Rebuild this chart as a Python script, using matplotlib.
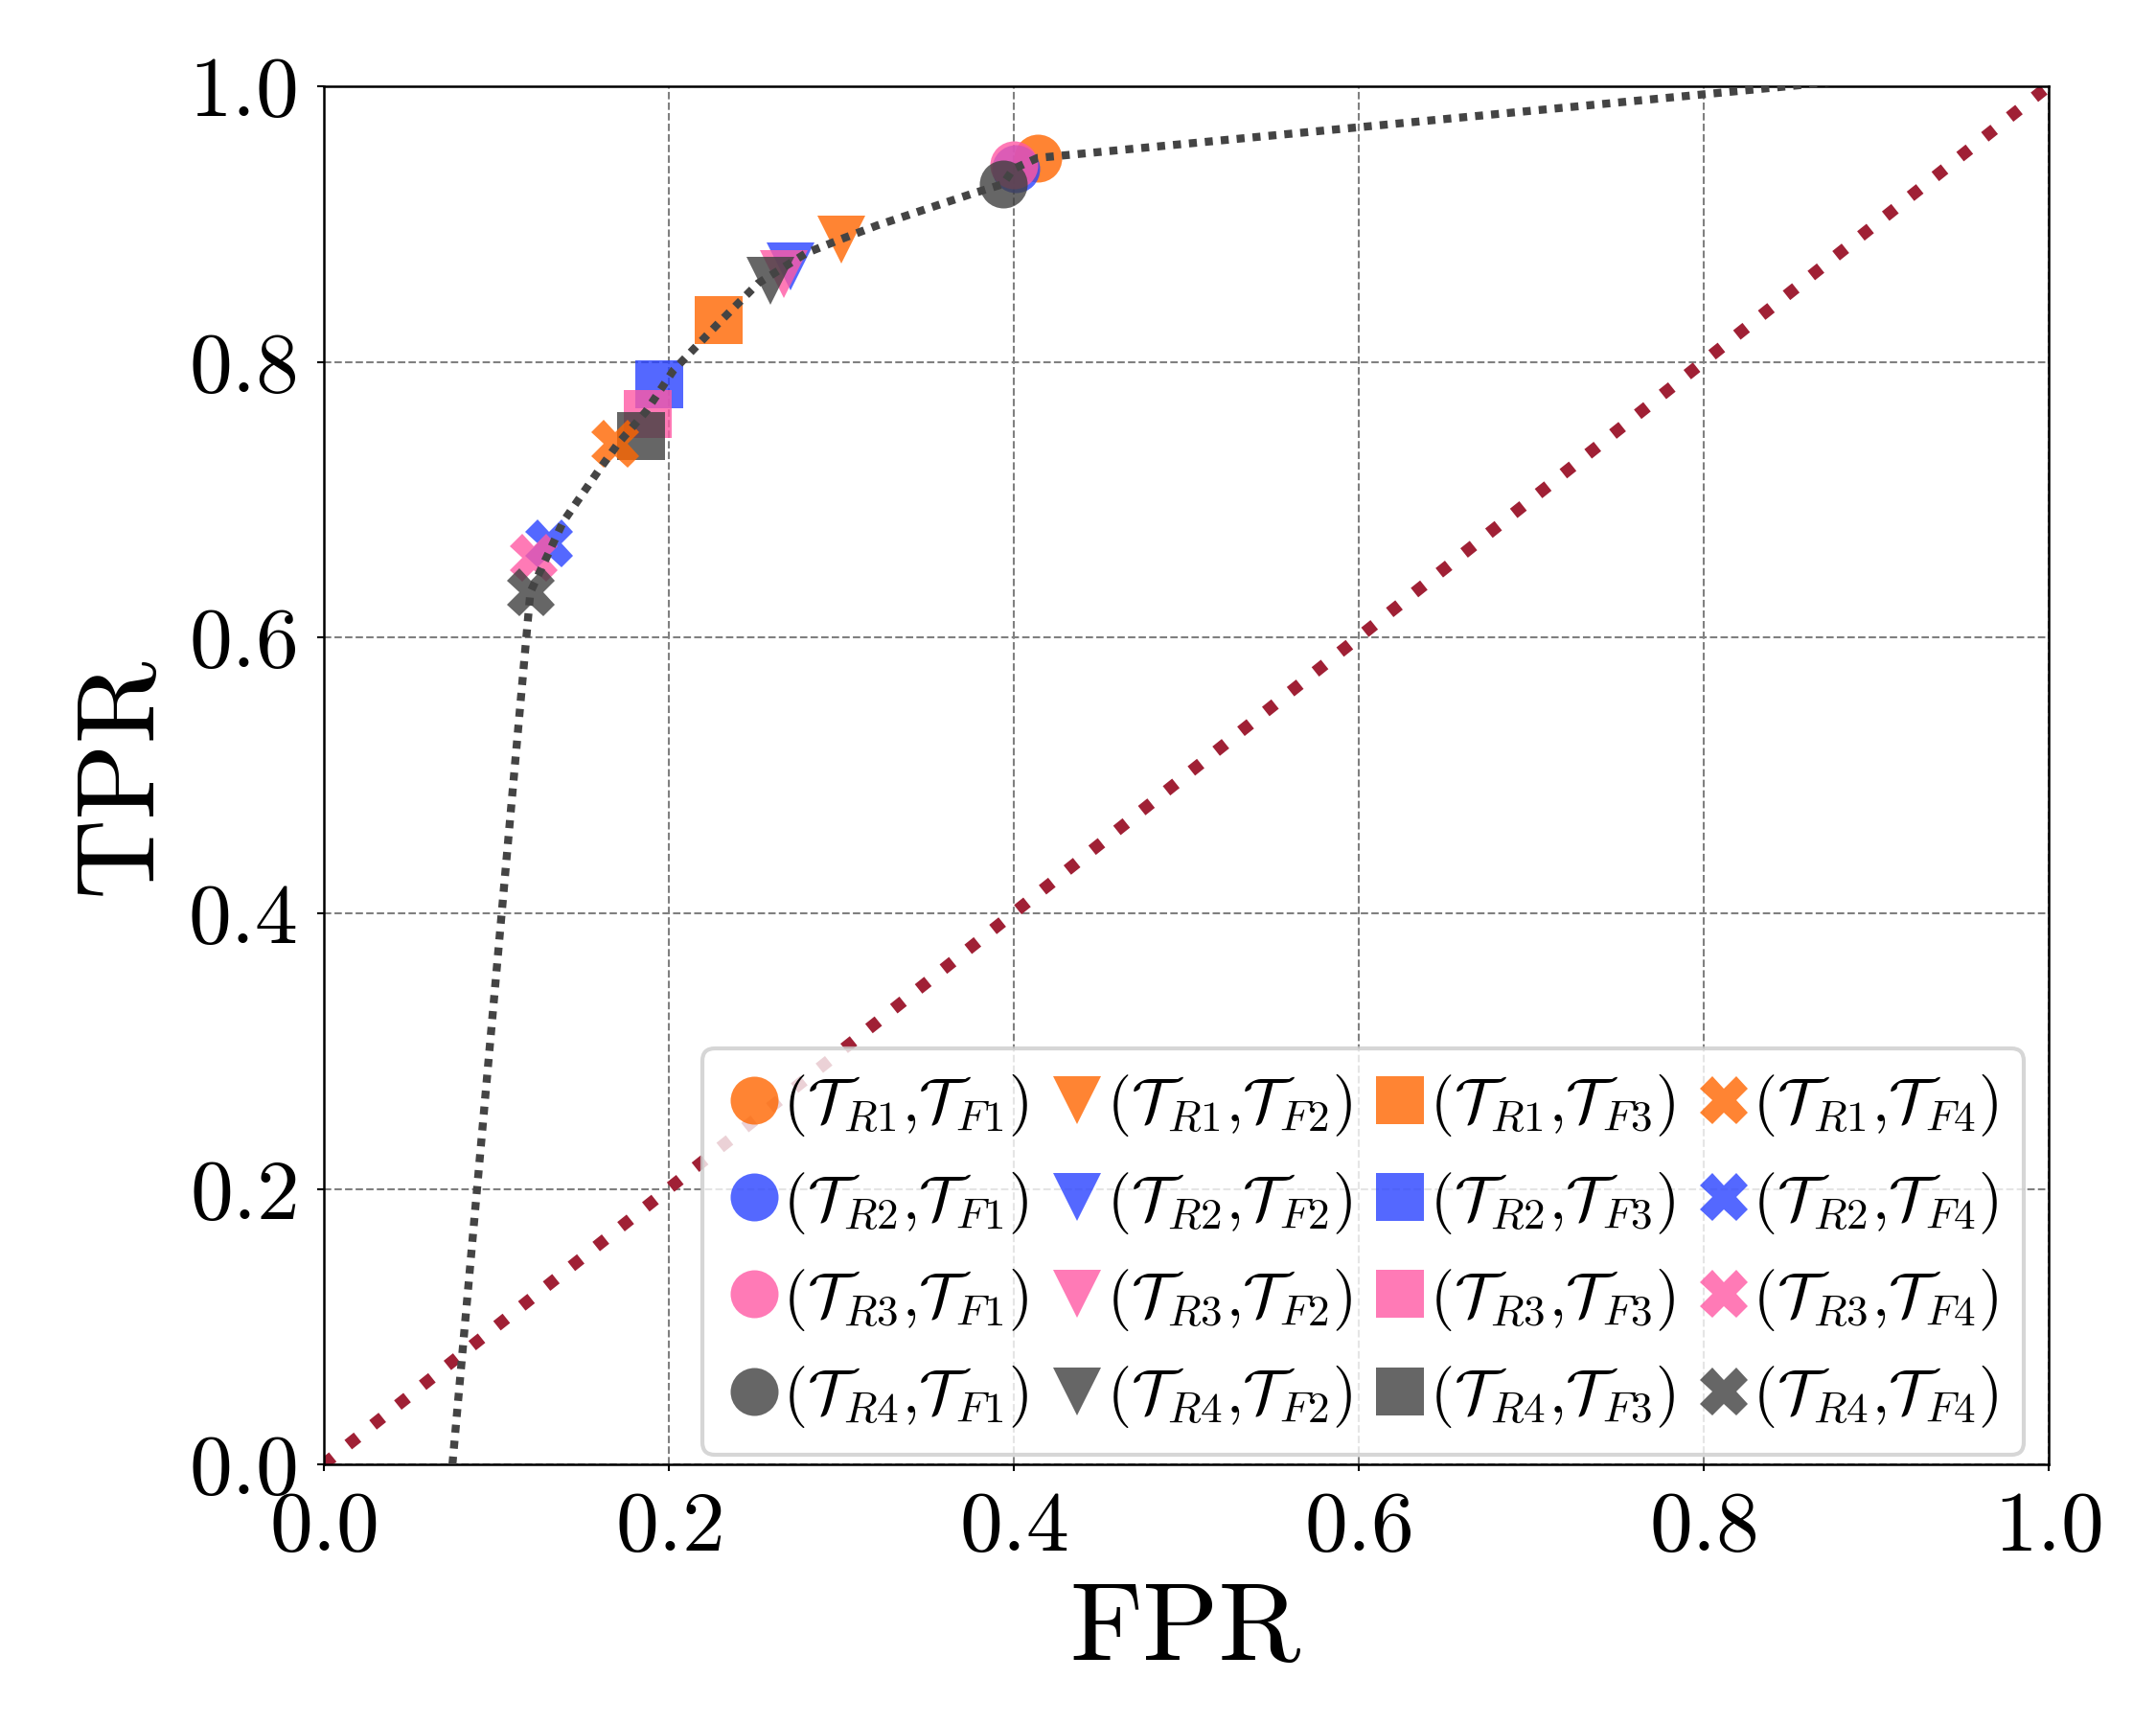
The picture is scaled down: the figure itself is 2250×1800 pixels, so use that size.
import matplotlib
matplotlib.use("Agg")
import matplotlib.pyplot as plt

plt.rcParams['font.family'] = 'serif'
plt.rcParams['font.serif'] = ['cmr10']
plt.rcParams['mathtext.fontset'] = 'cm'
plt.rcParams['axes.formatter.use_mathtext'] = True

# (FPR, TPR) for each (T_R, T_F) pair, rows = T_R1..T_R4, cols = T_F1..T_F4
fpr = [
    [0.414, 0.300, 0.229, 0.169],
    [0.4015, 0.271, 0.1945, 0.131],
    [0.400, 0.267, 0.188, 0.122],
    [0.394, 0.259, 0.184, 0.1205],
]
tpr = [
    [0.948, 0.889, 0.830, 0.7405],
    [0.940, 0.869, 0.784, 0.668],
    [0.943, 0.864, 0.762, 0.658],
    [0.929, 0.859, 0.746, 0.633],
]
r_names = ['R1', 'R2', 'R3', 'R4']
f_names = ['F1', 'F2', 'F3', 'F4']
colors = ['#FF6600', '#2942FF', '#FF59A4', '#404040']
markers = ['o', 'v', 's', 'X']

# fitted curve through the operating points
curve_fpr = [0.0748, 0.120, 0.139, 0.160, 0.171, 0.187, 0.203, 0.229, 0.252,
             0.280, 0.300, 0.321, 0.376, 0.394, 0.400, 0.414, 1.0]
curve_tpr = [0.0, 0.633, 0.684, 0.722, 0.741, 0.764, 0.794, 0.828, 0.857,
             0.879, 0.889, 0.899, 0.922, 0.929, 0.940, 0.948, 1.018]

fig, ax = plt.subplots(figsize=(7.5, 6), dpi=300)
fig.subplots_adjust(left=0.15, right=0.95, top=0.95, bottom=0.151)

ax.plot([0, 1], [0, 1], linestyle=':', color='#A02035', lw=3, zorder=2)

for j, f in enumerate(f_names):
    for i, r in enumerate(r_names):
        ax.plot(fpr[i][j], tpr[i][j], linestyle='none', marker=markers[j],
                ms=12, mew=0, color=colors[i], alpha=0.8, zorder=3,
                label=r'$(\mathcal{T}_{%s}{,}\mathcal{T}_{%s})$' % (r, f))

ax.plot(curve_fpr, curve_tpr, color='#444444', lw=2, dashes=(1, 1), zorder=4)

ax.set_xlim(0, 1)
ax.set_ylim(0, 1)
ax.set_xticks([0, 0.2, 0.4, 0.6, 0.8, 1.0])
ax.set_yticks([0, 0.2, 0.4, 0.6, 0.8, 1.0])
ax.grid(True, linestyle='--', lw=0.5, color='gray')
ax.tick_params(labelsize=21.5, length=1.75, width=0.5, pad=5)
for s in ax.spines.values():
    s.set_linewidth(0.6)

ax.set_xlabel('FPR', fontsize=28, labelpad=4)
ax.set_ylabel('TPR', fontsize=28, labelpad=4)

ax.legend(loc='lower right', bbox_to_anchor=(0.9856, 0.007), borderaxespad=0,
          ncol=4, fontsize=15.5, handlelength=0.85, handletextpad=0.05,
          columnspacing=0.35, labelspacing=0.5)

fig.savefig('out.png', dpi=300)
